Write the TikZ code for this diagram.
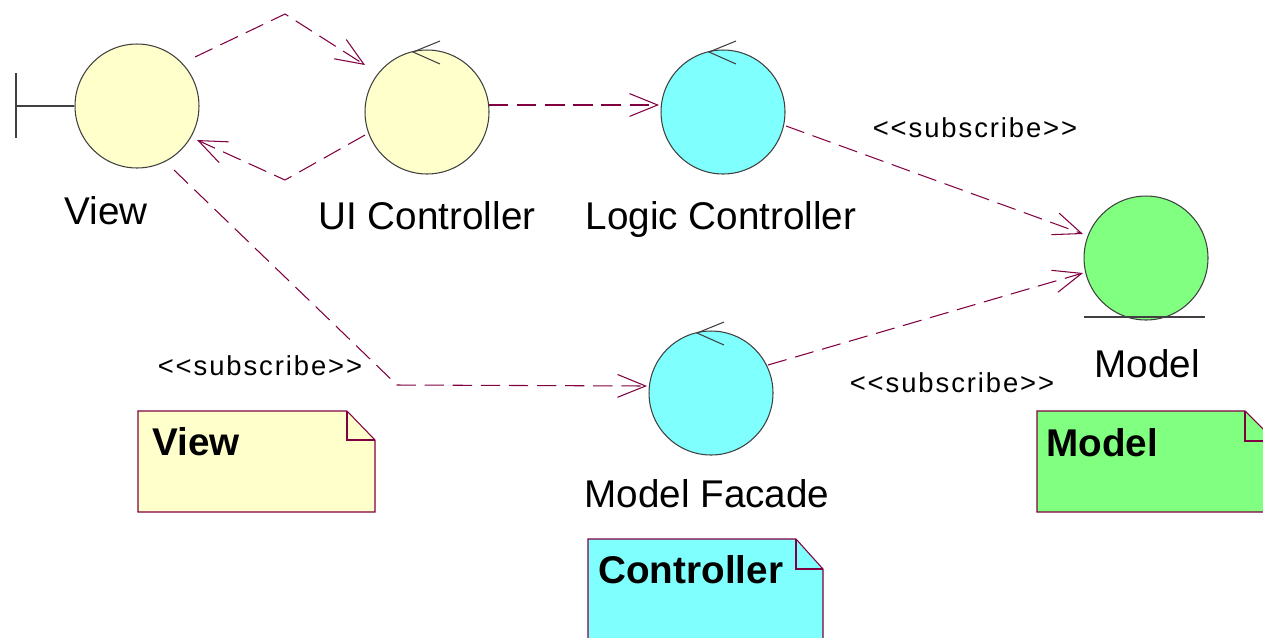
\documentclass[tikz,border=0pt]{standalone}
\usepackage{fontspec}
\setmainfont{Liberation Sans}
\newfontfamily\stereofont[LetterSpace=7]{Liberation Sans}
\usetikzlibrary{arrows.meta,calc}
\definecolor{linkcol}{RGB}{128,0,64}
\definecolor{viewfill}{RGB}{255,255,204}
\definecolor{ctrlfill}{RGB}{128,255,255}
\definecolor{modelfill}{RGB}{128,255,128}
\definecolor{outline}{RGB}{64,64,64}
\begin{document}
\begin{tikzpicture}[x=0.02cm,y=-0.02cm,
  robust/.style={circle,draw=outline,line width=0.6pt,minimum size=2.48cm,inner sep=0pt},
  link/.style={draw=linkcol,line width=0.6pt,dash pattern=on 11pt off 5pt,
    -{Straight Barb[length=16pt,width=13pt,line width=0.6pt]}},
  lbl/.style={font=\fontsize{22}{26}\selectfont,inner sep=0pt,anchor=base},
  stereo/.style={font=\fontsize{15.6}{18}\stereofont,inner sep=0pt,anchor=base},
  notetext/.style={font=\fontsize{22}{26}\selectfont\bfseries,inner sep=0pt,anchor=base west},
  notebox/.style={draw=linkcol,line width=0.6pt},
  glyph/.style={draw=outline,line width=0.6pt}]
\useasboundingbox (0,0) rectangle (1263,637);
\clip (0,0) rectangle (1263,637);

% robustness elements
\node[robust,fill=viewfill] (view) at (137,106) {};
\node[robust,fill=viewfill] (ui) at (427,112) {};
\node[robust,fill=ctrlfill] (logic) at (723,112) {};
\node[robust,fill=ctrlfill] (facade) at (711,393) {};
\node[robust,fill=modelfill] (model) at (1146,258) {};

% boundary stub on the view
\draw[glyph] (view.west) -- (16,106);
\draw[glyph] (16,73) -- (16,138);

% control arrows on the controllers
\foreach \c in {ui,logic,facade}
  \draw[glyph] ($(\c)+(13,-71)$) -- ($(\c)+(-14,-60)$) -- ($(\c)+(13,-48)$);

% entity underline on the model
\draw[glyph] ($(model)+(-62,59)$) -- ($(model)+(59,59)$);

% names
\node[lbl] (viewname) at (106,224) {View};
\node[lbl] (uiname) at (427,229) {UI Controller};
\node[lbl] (logicname) at (721,229) {Logic Controller};
\node[lbl] (modelname) at (1147,377) {Model};
\node[lbl] (facadename) at (707,507) {Model Facade};

% bend points
\coordinate (k1) at (285,14);
\coordinate (k2) at (285,180);
\coordinate (k3) at (397,385);

% dependencies
\draw[link] ($(view)+(58,-49)$) -- (k1) -- ($(ui)+(-62,-47)$);
\draw[link] ($(ui)+(-62,23)$) -- (k2) -- ($(view)+(60,34)$);
\draw[link] ($(ui)+(62,-7)$) -- ($(logic)+(-64,-7)$);
\draw[link] ($(logic)+(63,14)$) -- ($(model)+(-63,-24)$);
\draw[link] ($(facade)+(57,-28)$) -- ($(model)+(-63,15)$);
\draw[link] ($(view)+(37,64)$) -- (k3) -- ($(facade)+(-64,-7)$);

% stereotypes
\node[stereo] (s1) at (975,137) {<{}<subscribe>{}>};
\node[stereo] (s2) at (260,375) {<{}<subscribe>{}>};
\node[stereo] (s3) at (952,392) {<{}<subscribe>{}>};

% package notes
\filldraw[notebox,fill=viewfill] (138,411) -- (347,411) -- (375,440) -- (375,512) -- (138,512) -- cycle;
\draw[notebox] (347,411) -- (347,440) -- (375,440);
\node[notetext] (viewnote) at (152,455) {View};

\filldraw[notebox,fill=ctrlfill] (588,539) -- (796,539) -- (823,569) -- (823,660) -- (588,660) -- cycle;
\draw[notebox] (796,539) -- (796,569) -- (823,569);
\node[notetext] (ctrlnote) at (598,583) {Controller};

\filldraw[notebox,fill=modelfill] (1037,411) -- (1245,411) -- (1275,441) -- (1275,512) -- (1037,512) -- cycle;
\draw[notebox] (1245,411) -- (1245,441) -- (1275,441);
\node[notetext] (modelnote) at (1046,456) {Model};
\end{tikzpicture}
\end{document}
